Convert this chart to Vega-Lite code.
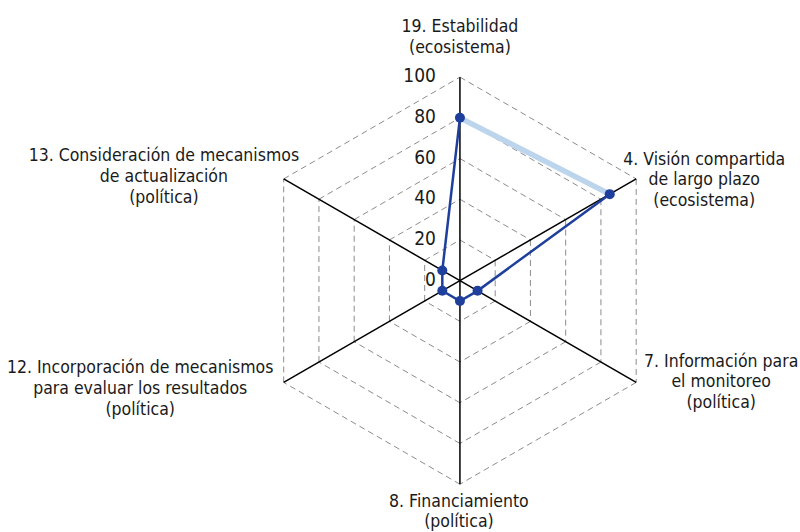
{
  "$schema": "https://vega.github.io/schema/vega-lite/v6.json",
  "width": 800,
  "height": 532,
  "autosize": "none",
  "padding": 0,
  "background": "white",
  "config": {"view": {"stroke": null}, "text": {"font": "DejaVu Sans Condensed", "fontSize": 17.5, "fill": "#1a1a1a"}},
  "datasets": {
    "axes": [
      {"idx": 0, "name": "19. Estabilidad\n(ecosistema)", "value": 80},
      {"idx": 1, "name": "4. Visión compartida\nde largo plazo\n(ecosistema)", "value": 85},
      {"idx": 2, "name": "7. Información para\nel monitoreo\n(política)", "value": 10},
      {"idx": 3, "name": "8. Financiamiento\n(política)", "value": 10},
      {"idx": 4, "name": "12. Incorporación de mecanismos\npara evaluar los resultados\n(política)", "value": 10},
      {"idx": 5, "name": "13. Consideración de mecanismos\nde actualización\n(política)", "value": 10}
    ],
    "grid": [
      {"level": 20, "k": [0, 1, 2, 3, 4, 5]},
      {"level": 40, "k": [0, 1, 2, 3, 4, 5]},
      {"level": 60, "k": [0, 1, 2, 3, 4, 5]},
      {"level": 80, "k": [0, 1, 2, 3, 4, 5]},
      {"level": 100, "k": [0, 1, 2, 3, 4, 5]}
    ],
    "ticks": [
      {"t": 0}, {"t": 20}, {"t": 40}, {"t": 60}, {"t": 80}, {"t": 100}
    ]
  },
  "resolve": {"scale": {"x": "shared", "y": "shared"}},
  "layer": [
    {
      "data": {"name": "grid"},
      "transform": [
        {"flatten": ["k"]},
        {"calculate": "datum.level * sin(datum.k * PI / 3)", "as": "x"},
        {"calculate": "datum.level * cos(datum.k * PI / 3)", "as": "y"},
        {"calculate": "datum.level * sin((datum.k + 1) * PI / 3)", "as": "x2"},
        {"calculate": "datum.level * cos((datum.k + 1) * PI / 3)", "as": "y2"}
      ],
      "mark": {"type": "rule", "stroke": "#8c8c8c", "strokeWidth": 1, "strokeDash": [6, 4]},
      "encoding": {
        "x": {"field": "x", "type": "quantitative", "scale": {"domain": [-226.0, 167.1], "nice": false, "zero": false}, "axis": null},
        "y": {"field": "y", "type": "quantitative", "scale": {"domain": [-123.5, 137.9], "nice": false, "zero": false}, "axis": null},
        "x2": {"field": "x2"},
        "y2": {"field": "y2"}
      }
    },
    {
      "data": {"name": "axes"},
      "transform": [
        {"calculate": "100 * sin(datum.idx * PI / 3)", "as": "vx"},
        {"calculate": "100 * cos(datum.idx * PI / 3)", "as": "vy"},
        {"calculate": "0", "as": "cx"}
      ],
      "mark": {"type": "rule", "stroke": "#000000", "strokeWidth": 1.5},
      "encoding": {
        "x": {"field": "cx", "type": "quantitative"},
        "y": {"field": "cx", "type": "quantitative"},
        "x2": {"field": "vx"},
        "y2": {"field": "vy"}
      }
    },
    {
      "data": {"name": "ticks"},
      "transform": [{"calculate": "0", "as": "cx"}],
      "mark": {"type": "text", "align": "right", "baseline": "middle", "dx": -24, "dy": -1, "fontSize": 19},
      "encoding": {
        "x": {"field": "cx", "type": "quantitative"},
        "y": {"field": "t", "type": "quantitative"},
        "text": {"field": "t", "type": "quantitative"}
      }
    },
    {
      "data": {"name": "axes"},
      "transform": [
        {"filter": "datum.idx <= 1"},
        {"calculate": "datum.value * sin(datum.idx * PI / 3)", "as": "px"},
        {"calculate": "datum.value * cos(datum.idx * PI / 3)", "as": "py"}
      ],
      "mark": {"type": "line", "stroke": "#bcd4ec", "strokeWidth": 5.5, "strokeCap": "butt"},
      "encoding": {
        "x": {"field": "px", "type": "quantitative"},
        "y": {"field": "py", "type": "quantitative"},
        "order": {"field": "idx"}
      }
    },
    {
      "data": {"name": "axes"},
      "transform": [
        {"calculate": "datum.value * sin(datum.idx * PI / 3)", "as": "px"},
        {"calculate": "datum.value * cos(datum.idx * PI / 3)", "as": "py"},
        {"calculate": "datum.idx == 0 ? 6 : datum.idx", "as": "ord"}
      ],
      "mark": {"type": "line", "stroke": "#1f3f9c", "strokeWidth": 2.5},
      "encoding": {
        "x": {"field": "px", "type": "quantitative"},
        "y": {"field": "py", "type": "quantitative"},
        "order": {"field": "ord"}
      }
    },
    {
      "data": {"name": "axes"},
      "transform": [
        {"calculate": "datum.value * sin(datum.idx * PI / 3)", "as": "px"},
        {"calculate": "datum.value * cos(datum.idx * PI / 3)", "as": "py"}
      ],
      "mark": {"type": "circle", "size": 100, "opacity": 1, "color": "#1f3f9c"},
      "encoding": {
        "x": {"field": "px", "type": "quantitative"},
        "y": {"field": "py", "type": "quantitative"}
      }
    },
    {
      "data": {"name": "axes"},
      "transform": [
        {"filter": "datum.idx == 0"},
        {"calculate": "100 * sin(datum.idx * PI / 3)", "as": "vx"},
        {"calculate": "100 * cos(datum.idx * PI / 3)", "as": "vy"}
      ],
      "mark": {"type": "text", "align": "center", "baseline": "alphabetic", "lineBreak": "\n", "lineHeight": 21, "dx": 0, "dy": -45},
      "encoding": {"x": {"field": "vx", "type": "quantitative"}, "y": {"field": "vy", "type": "quantitative"}, "text": {"field": "name"}}
    },
    {
      "data": {"name": "axes"},
      "transform": [
        {"filter": "datum.idx == 1"},
        {"calculate": "100 * sin(datum.idx * PI / 3)", "as": "vx"},
        {"calculate": "100 * cos(datum.idx * PI / 3)", "as": "vy"}
      ],
      "mark": {"type": "text", "align": "center", "baseline": "alphabetic", "lineBreak": "\n", "lineHeight": 20.5, "dx": 68, "dy": -14},
      "encoding": {"x": {"field": "vx", "type": "quantitative"}, "y": {"field": "vy", "type": "quantitative"}, "text": {"field": "name"}}
    },
    {
      "data": {"name": "axes"},
      "transform": [
        {"filter": "datum.idx == 2"},
        {"calculate": "100 * sin(datum.idx * PI / 3)", "as": "vx"},
        {"calculate": "100 * cos(datum.idx * PI / 3)", "as": "vy"}
      ],
      "mark": {"type": "text", "align": "center", "baseline": "alphabetic", "lineBreak": "\n", "lineHeight": 20.5, "dx": 85, "dy": -15.7},
      "encoding": {"x": {"field": "vx", "type": "quantitative"}, "y": {"field": "vy", "type": "quantitative"}, "text": {"field": "name"}}
    },
    {
      "data": {"name": "axes"},
      "transform": [
        {"filter": "datum.idx == 3"},
        {"calculate": "100 * sin(datum.idx * PI / 3)", "as": "vx"},
        {"calculate": "100 * cos(datum.idx * PI / 3)", "as": "vy"}
      ],
      "mark": {"type": "text", "align": "center", "baseline": "alphabetic", "lineBreak": "\n", "lineHeight": 20.5, "dx": -1, "dy": 22.5},
      "encoding": {"x": {"field": "vx", "type": "quantitative"}, "y": {"field": "vy", "type": "quantitative"}, "text": {"field": "name"}}
    },
    {
      "data": {"name": "axes"},
      "transform": [
        {"filter": "datum.idx == 4"},
        {"calculate": "100 * sin(datum.idx * PI / 3)", "as": "vx"},
        {"calculate": "100 * cos(datum.idx * PI / 3)", "as": "vy"}
      ],
      "mark": {"type": "text", "align": "center", "baseline": "alphabetic", "lineBreak": "\n", "lineHeight": 21, "dx": -143.5, "dy": -9.4},
      "encoding": {"x": {"field": "vx", "type": "quantitative"}, "y": {"field": "vy", "type": "quantitative"}, "text": {"field": "name"}}
    },
    {
      "data": {"name": "axes"},
      "transform": [
        {"filter": "datum.idx == 5"},
        {"calculate": "100 * sin(datum.idx * PI / 3)", "as": "vx"},
        {"calculate": "100 * cos(datum.idx * PI / 3)", "as": "vy"}
      ],
      "mark": {"type": "text", "align": "center", "baseline": "alphabetic", "lineBreak": "\n", "lineHeight": 21, "dx": -119.8, "dy": -18.3},
      "encoding": {"x": {"field": "vx", "type": "quantitative"}, "y": {"field": "vy", "type": "quantitative"}, "text": {"field": "name"}}
    }
  ]
}
